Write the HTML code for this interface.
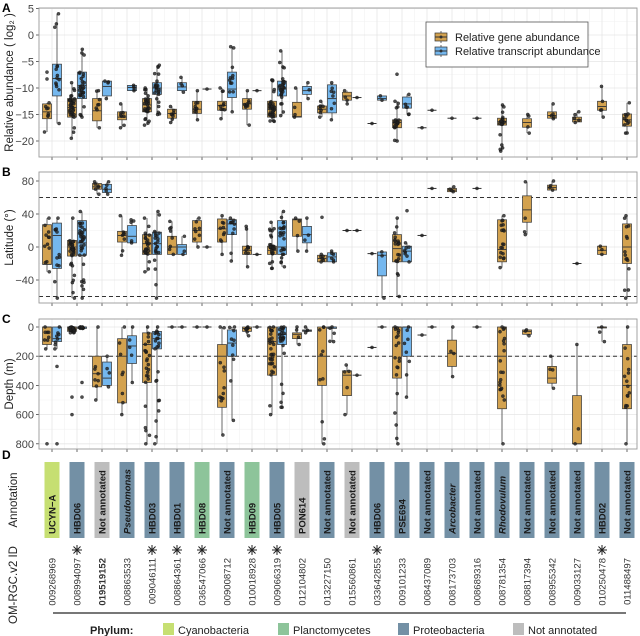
<!DOCTYPE html>
<html><head><meta charset="utf-8"><style>
body{margin:0;background:#fff;}
svg{display:block;font-family:"Liberation Sans",sans-serif;}
</style></head><body>
<svg id="s" width="640" height="636" viewBox="0 0 640 636" xmlns="http://www.w3.org/2000/svg"></svg>
<script>
const S=document.getElementById('s');let out='';
const X0=39,X1=637;const cx=i=>52+25*i;
const G='#d3a24f',T='#74b7ee';
const panels=[
 {top:8,bot:157,f:v=>35-5.3*v,ticks:[5,0,-5,-10,-15,-20],minor:[2.5,-2.5,-7.5,-12.5,-17.5],lab:'A',title:'Relative abundance ( log\u2082 )',dash:[]},
 {top:172,bot:303,f:v=>247-0.825*v,ticks:[80,40,0,-40],minor:[60,20,-20,-60],lab:'B',title:'Latitude (\u00b0)',dash:[60,-60]},
 {top:319,bot:449,f:v=>327+0.146*v,ticks:[0,200,400,600,800],minor:[100,300,500,700],lab:'C',title:'Depth (m)',dash:[200]}
];
const D=[
`0 g -18.3 -15.8 -14.5 -13 -12.8 8|0 t -16.7 -11.5 -8.2 -5.5 4 14|1 g -19.5 -15.5 -13.7 -12 -9 40|1 t -15.5 -12 -9.5 -7 -2.7 30|2 g -17.5 -16.2 -14.3 -12 -10.5 8|2 t -12 -11.5 -9.7 -8.7 -8.7 4|3 g -17.5 -16 -15.5 -14.5 -13 8|3 t -10.5 -10.5 -9.9 -9.5 -9.5 4|4 g -17 -14.5 -13.2 -12 -10 30|4 t -15 -11.2 -10 -9 -5.7 25|5 g -16.5 -15.7 -14.8 -14 -13.5 8|5 t -10.8 -10.5 -9.8 -9 -8 4|6 g -16 -14.8 -14 -12.5 -10.5 10|6 t -10.2|7 g -15.8 -14.2 -13.3 -12.5 -10 10|7 t -14.5 -11.8 -10.2 -7 -2.2 12|8 g -17 -14 -13 -12 -10.5 10|8 t -10.5|9 g -16.3 -15.5 -14 -12.5 -8.5 35|9 t -15.2 -11.5 -10.2 -8.7 -3 30|10 g -15.5 -15.5 -15.4 -12.7 -10 4|10 t -12 -11.2 -10.5 -9.7 -9 3|11 g -15.5 -14.7 -14 -13.4 -12.5 8|11 t -16 -14.7 -12 -9.4 -9 8|12 g -13 -12.3 -11.5 -10.8 -10.5 4|12 t -11.8|13 g -16.7|13 t -12.3 -12.3 -12 -11.5 -11.5 2|14 g -20 -17.5 -16.5 -16 -12.5 20|14 t -15 -13.8 -13 -11.7 -11.2 6|15 g -17.5|15 t -14.2|16 c -15.7|17 c -15.7|18 c -21.9 -17 -16.3 -15.7 -13.2 20|19 c -18.5 -17.4 -16.5 -15.8 -15 4|20 c -15.8 -15.7 -15.2 -14.5 -13 5|21 c -16.5 -16.4 -16 -15.5 -14.5 5|22 c -15.5 -14.2 -13.5 -12.5 -9.7 5|23 c -18.5 -17.2 -16 -14.9 -12.8 12`,
`0 g -30 -21 -21 27 35 12|0 t -62 -26 14 29 35 12|1 g -62 -11 0 8 35 35|1 t -62 -10 5 32 43 35|2 g 64 70 73 77 79 6|2 t 64 66 70 76 79 5|3 g -10 6 14 19 38 8|3 t 5 5 13 26 33 5|4 g -30 -9 4 15 35 25|4 t -62 -9 4 18 43 22|5 g -9 -9 0 13 31 8|5 t -9 -9 0 3 13 3|6 g 0 6 20 32 35 8|6 t 0|7 g -9 6 22 34 38 10|7 t -17 15 28 33 35 10|8 g -24 -9 -4 1 25 10|8 t -9|9 g -26 -9 -4 1 30 30|9 t -24 -9 0 32 43 25|10 g -5 13 33 34 35 4|10 t -5 5 15 25 35 4|11 g -18 -18 -14 -10 -9 6|11 t -18 -18 -12 -7 -5 6|12 g 20|12 t 20|13 g -8|13 t -62 -35 -10 -6 -6 3|14 g -60 -18 -2 15 35 20|14 t -18 -18 -5 1 5 8|15 g 14|15 t 71|16 c 67 67 69 71 73 4|17 c 71|18 c -25 -18 -3 33 38 18|19 c 15 30 45 62 79 4|20 c 69 69 72 75 80 4|21 c -20|22 c -9 -9 -4 1 1 3|23 c -62 -20 0 28 38 15`,
`0 g 0 0 0 120 150 8|0 t 0 0 80 100 150 8|1 g 0 0 0 30 40 25|1 t 0 0 0 10 10 15|2 g 0 200 320 410 500 8|2 t 200 240 350 400 410 4|3 g 0 80 200 520 600 8|3 t 0 60 130 250 380 5|4 g 0 40 120 380 800 25|4 t 0 30 80 150 800 22|5 g 0|5 t 0|6 g 0|6 t 0|7 g 0 120 200 550 740 12|7 t 0 20 110 200 640 10|8 g 0 0 10 30 60 8|8 t 0|9 g 0 0 100 330 600 30|9 t 0 0 50 120 550 25|10 g 0 40 50 80 120 4|10 t 0 20 25 30 40 3|11 g 0 0 200 400 800 10|11 t 0 0 0 10 100 5|12 g 260 300 330 470 600 5|12 t 330|13 g 140|13 t 0|14 g 0 0 0 350 800 20|14 t 0 0 0 200 480 8|15 g 55|15 t 0|16 c 0 90 180 270 340 4|17 c 0|18 c 0 0 200 560 800 20|19 c 20 20 30 50 60 3|20 c 200 270 350 385 420 4|21 c 120 470 800 800 800 3|22 c 0 0 0 0 100 3|23 c 0 120 400 560 800 15`];
const extra=[[2,0,-5,800],[2,0,5,800],[2,0,5,270],[2,1,-5,600],[2,1,-5,480],[2,1,5,480],[2,1,5,380],[1,11,-5,36],[1,14,5,44],[0,14,-5,-7.4],[0,0,-5,-7],[0,0,-5,-8.3]];
let seed=7;const rnd=()=>{seed=(seed*16807)%2147483647;return seed/2147483647;};
panels.forEach((p,pi)=>{
 const h=p.bot-p.top;
 out+=`<rect x="${X0}" y="${p.top}" width="${X1-X0}" height="${h}" fill="#fff"/>`;
 p.minor.forEach(v=>out+=`<line x1="${X0}" x2="${X1}" y1="${p.f(v)}" y2="${p.f(v)}" stroke="#f2f2f2" stroke-width="0.6"/>`);
 for(let i=0;i<24;i++){out+=`<line x1="${cx(i)}" x2="${cx(i)}" y1="${p.top}" y2="${p.bot}" stroke="#e6e6e6" stroke-width="0.8"/>`;
  if(i<23)out+=`<line x1="${cx(i)+12.5}" x2="${cx(i)+12.5}" y1="${p.top}" y2="${p.bot}" stroke="#f2f2f2" stroke-width="0.6"/>`;
  out+=`<line x1="${cx(i)}" x2="${cx(i)}" y1="${p.bot}" y2="${p.bot+3}" stroke="#444" stroke-width="0.8"/>`;}
 p.ticks.forEach(v=>{const y=p.f(v);out+=`<line x1="${X0}" x2="${X1}" y1="${y}" y2="${y}" stroke="#e6e6e6" stroke-width="0.8"/><line x1="${X0-3}" x2="${X0}" y1="${y}" y2="${y}" stroke="#444" stroke-width="0.8"/><text x="${X0-5}" y="${y+4}" font-size="11" fill="#444" text-anchor="end">${v<0?'\u2212'+(-v):v}</text>`;});
 p.dash.forEach(v=>out+=`<line x1="${X0}" x2="${X1}" y1="${p.f(v)}" y2="${p.f(v)}" stroke="#333" stroke-width="1" stroke-dasharray="4,3"/>`);
 let pts='';
 D[pi].split('|').forEach(r=>{const a=r.split(' ');const i=+a[0],ty=a[1];const nums=a.slice(2).map(Number);
  const off=ty=='g'?-5:ty=='t'?5:0;const col=ty=='t'?T:G;const x=cx(i)+off;
  if(nums.length==1){const y=p.f(nums[0]);out+=`<line x1="${x-4.5}" x2="${x+4.5}" y1="${y}" y2="${y}" stroke="#333" stroke-width="1"/>`;pts+=`<circle cx="${x}" cy="${y}" r="1.6"/>`;return;}
  const [lo,q1,md,q3,hi,n]=nums;const f=p.f;
  out+=`<line x1="${x}" x2="${x}" y1="${f(lo)}" y2="${f(hi)}" stroke="#444" stroke-width="0.8"/>`;
  const ya=Math.min(f(q1),f(q3)),yb=Math.max(f(q1),f(q3));
  out+=`<rect x="${x-4.5}" y="${ya}" width="9" height="${Math.max(yb-ya,1)}" fill="${col}" stroke="#333" stroke-width="0.7"/><line x1="${x-4.5}" x2="${x+4.5}" y1="${f(md)}" y2="${f(md)}" stroke="#333" stroke-width="0.9"/>`;
  for(let k=0;k<n;k++){let v;if(k==0)v=lo;else if(k==1)v=hi;else if(rnd()<0.7)v=q1+(q3-q1)*rnd();else v=lo+(hi-lo)*rnd();
   pts+=`<circle cx="${(x+(rnd()-0.5)*5).toFixed(1)}" cy="${f(v).toFixed(1)}" r="1.6"/>`;}
 });
 extra.filter(e=>e[0]==pi).forEach(e=>pts+=`<circle cx="${cx(e[1])+e[2]}" cy="${p.f(e[3])}" r="1.6"/>`);
 out+=`<g fill="#222" fill-opacity="0.8" stroke="#111" stroke-width="0.3">${pts}</g>`;
 out+=`<rect x="${X0}" y="${p.top}" width="${X1-X0}" height="${h}" fill="none" stroke="#999" stroke-width="0.9"/>`;
 out+=`<text x="2" y="${p.top+4}" font-size="12" font-weight="bold">${p.lab}</text>`;
 const cy=(p.top+p.bot)/2;out+=`<text transform="translate(13,${cy}) rotate(-90)" font-size="11.5" fill="#222" text-anchor="middle">${p.title}</text>`;
});
out+=`<rect x="426" y="22" width="162" height="45" fill="#fff" stroke="#555" stroke-width="0.8"/>`;
[[37,G,'Relative gene abundance'],[51,T,'Relative transcript abundance']].forEach(([y,c,t])=>{out+=`<line x1="441" x2="441" y1="${y-6}" y2="${y+6}" stroke="#444" stroke-width="0.8"/><rect x="435" y="${y-4}" width="12" height="8" fill="${c}" stroke="#333" stroke-width="0.7"/><line x1="435" x2="447" y1="${y}" y2="${y}" stroke="#333"/><circle cx="441" cy="${y}" r="1.5" fill="#333"/><text x="455" y="${y+4}" font-size="11" fill="#222">${t}</text>`;});
out+=`<text x="2" y="459" font-size="12" font-weight="bold">D</text>`;
out+=`<text transform="translate(17,500) rotate(-90)" font-size="11.5" fill="#222" text-anchor="middle">Annotation</text>`;
out+=`<text transform="translate(17,585) rotate(-90)" font-size="11.5" fill="#222" text-anchor="middle">OM-RGC.v2 ID</text>`;
const C={C:'#c6df72',L:'#8dc49a',P:'#7390a5',N:'#bdbdbd'};
const ann=[['UCYN\u2212A','C'],['HBD06','P'],['Not annotated','N'],['Pseudomonas','P',1],['HBD03','P'],['HBD01','P'],['HBD08','L'],['Not annotated','P'],['HBD09','L'],['HBD05','P'],['PON614','N'],['Not annotated','P'],['Not annotated','N'],['HBD06','P'],['PSE694','P'],['Not annotated','P'],['Arcobacter','P',1],['Not annotated','P'],['Rhodovulum','P',1],['Not annotated','P'],['Not annotated','P'],['Not annotated','P'],['HBD02','P'],['Not annotated','P']];
const ids=['009268969','008994097','019519152','008863533','009046111','008864361','036547066','009008712','010018928','009066319','012104802','013227150','015560861','033642855','009101233','008437089','008173703','008689316','008781354','008817394','008955342','009033127','010250478','011488497'];
const stars=[1,4,5,6,8,9,13,22];
ann.forEach((a,i)=>{const x=cx(i);out+=`<rect x="${x-7.5}" y="462" width="15" height="76" fill="${C[a[1]]}"/><text transform="translate(${x+3.5},534) rotate(-90)" font-size="9.5" font-weight="bold" ${a[2]?'font-style="italic"':''} fill="#1a1a1a">${a[0]}</text>`;
 out+=`<text transform="translate(${x+3.5},558) rotate(-90)" font-size="9.5" fill="#333" text-anchor="end" ${i==2?'font-weight="bold"':''}>${ids[i]}</text>`;});
stars.forEach(i=>{const x=cx(i),y=550;for(let k=0;k<4;k++){const a=k*Math.PI/4;out+=`<line x1="${x-5*Math.cos(a)}" y1="${y-5*Math.sin(a)}" x2="${x+5*Math.cos(a)}" y2="${y+5*Math.sin(a)}" stroke="#222" stroke-width="1"/>`;}});
out+=`<line x1="53" x2="626" y1="613" y2="613" stroke="#777" stroke-width="2"/>`;
out+=`<text x="90" y="634" font-size="11" font-weight="bold" fill="#222">Phylum:</text>`;
[[163,C.C,'Cyanobacteria'],[278,C.L,'Planctomycetes'],[398,C.P,'Proteobacteria'],[513,C.N,'Not annotated']].forEach(([x,c,t])=>out+=`<rect x="${x}" y="623" width="11" height="12" fill="${c}"/><text x="${x+15}" y="634" font-size="11" fill="#222">${t}</text>`);
S.innerHTML=out;
</script>
</body></html>
